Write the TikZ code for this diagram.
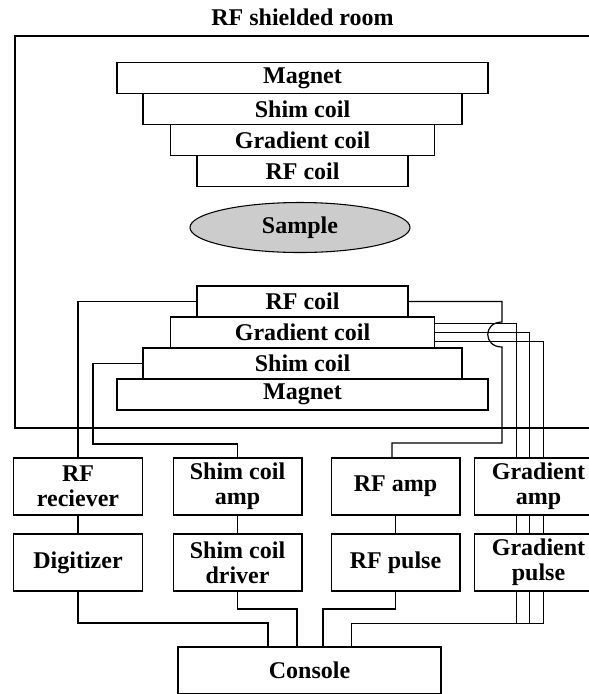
\documentclass[tikz,border=0pt]{standalone}
\usepackage{fontspec}
\setmainfont{Liberation Serif}
\usetikzlibrary{positioning,shapes.geometric}

\begin{document}
\begin{tikzpicture}[x=0.75pt,y=0.75pt,yscale=-1,xscale=1,
		font=\fontsize{18}{19}\selectfont\bfseries,
		coil/.style={draw,line width=1pt,minimum height=23.25pt,inner sep=0pt,outer sep=0pt},
		unit/.style={draw,line width=1pt,minimum width=96.5pt,minimum height=42.75pt,inner sep=0pt,outer sep=0pt,align=center},
		wire/.style={line width=0.9pt},
		gwire/.style={line width=0.6pt}]
		\useasboundingbox (0,0) rectangle (589,694);
		% shielded room
		\node (title) at (302.5,17) {RF shielded room};
		\draw [line width=1.8pt] (600,36) -- (15,36) -- (15,428) -- (600,428);
		% upper magnet stack
		\node [coil, minimum width=278.25pt] (magT) at (302.5,78) {Magnet};
		\node [coil, minimum width=239.25pt, below=0pt of magT] (shimT) {Shim coil};
		\node [coil, minimum width=198pt, below=0pt of shimT] (gradT) {Gradient coil};
		\node [coil, minimum width=158.25pt, below=0pt of gradT] (rfT) {RF coil};
		\node [ellipse, draw, fill=black!20, line width=0.8pt, minimum width=165pt, minimum height=37.5pt, inner sep=0pt] (sample) at (300,227.5) {Sample};
		% lower magnet stack
		\node [coil, minimum width=158.25pt] (rfB) at (302.5,301.5) {RF coil};
		\node [coil, minimum width=198pt, below=0pt of rfB] (gradB) {Gradient coil};
		\node [coil, minimum width=239.25pt, below=0pt of gradB] (shimB) {Shim coil};
		\node [coil, minimum width=278.25pt, below=0pt of shimB] (magB) {Magnet};
		% electronics
		\node [unit] (recv) at (78,486.5) {RF\\reciever};
		\node [unit, below=14.25pt of recv] (digit) {Digitizer};
		\node [unit] (shimamp) at (237.5,486.5) {Shim coil\\amp};
		\node [unit, below=14.25pt of shimamp] (shimdrv) {Shim coil\\driver};
		\node [unit] (rfamp) at (395.5,486.5) {RF amp};
		\node [unit, below=14.25pt of rfamp] (rfpulse) {RF pulse};
		\node [unit] (gradamp) at (538.5,486.5) {Gradient\\amp};
		\node [unit, below=14.25pt of gradamp] (gradpulse) {Gradient\\pulse};
		\node [unit, minimum width=197.25pt, minimum height=35.25pt] (console) at (309.5,670.5) {Console};
		% wiring
		\draw [wire] (rfB.west) -| (recv.north);
		\draw [wire] (shimB.west) -| (93,444) -| (shimamp.north);
		\draw [wire] (rfB.east) -| (502,322) .. controls (483,322) and (483,347) .. (502,347) -- (502,443) -| ([xshift=-2.625pt]rfamp.north);
		\foreach \dy/\dx in {6.75/3.375, 0/-7.125, -6.75/-16.875} {
			\draw [gwire] ([yshift=\dy pt]gradB.east) -| ([xshift=\dx pt]gradamp.north);
			\draw [gwire] ([xshift=\dx pt]gradamp.south) -- ([xshift=\dx pt]gradpulse.north);
			\draw [gwire] ([xshift=\dx pt]gradpulse.south) -- ++(0,32) -| ([xshift=31.125pt]console.north);
		}
		\draw [wire] (recv) -- (digit);
		\draw [wire] (shimamp) -- (shimdrv);
		\draw [wire] (rfamp) -- (rfpulse);
		\draw [wire] (digit.south) -- ++(0,32) -| ([xshift=-31.125pt]console.north);
		\draw [wire] (shimdrv.south) -- ++(0,18) -| ([xshift=-9.375pt]console.north);
		\draw [wire] (rfpulse.south) -- ++(0,18) -| ([xshift=10.125pt]console.north);
		\end{tikzpicture}
\end{document}
